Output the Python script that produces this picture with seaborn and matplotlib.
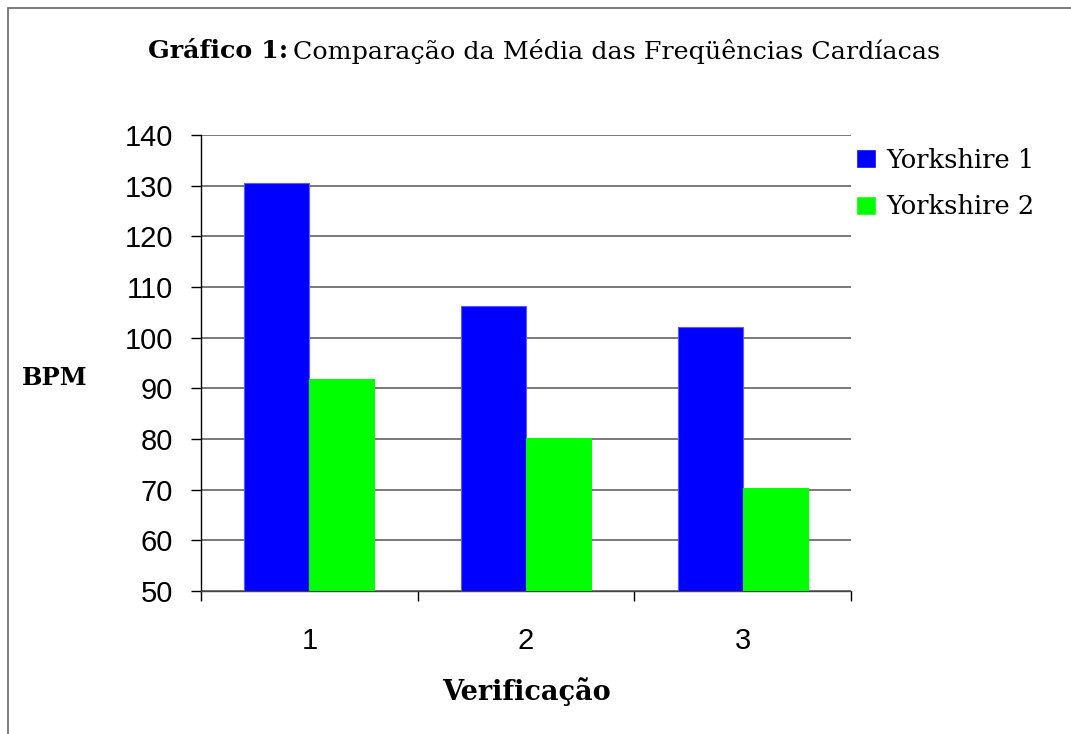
import pandas as pd
import matplotlib.pyplot as plt
import seaborn as sns
from matplotlib.patches import Rectangle

# values
verificacao = ["1", "2", "3"]
yorkshire_1 = [130.5, 106.2, 102.2]
yorkshire_2 = [91.8, 80.1, 70.3]
series = ["Yorkshire 1", "Yorkshire 2"]
cores = ["#0000ff", "#00ff00"]
y_ticks = [50, 60, 70, 80, 90, 100, 110, 120, 130, 140]

df = pd.DataFrame({
    "Verificacao": verificacao * 2,
    "BPM": yorkshire_1 + yorkshire_2,
    "Serie": [series[0]] * 3 + [series[1]] * 3,
})

sns.set_theme(style="white")
plt.rcParams["text.color"] = "black"
serif = ["DejaVu Serif"]
sans = ["Liberation Sans", "DejaVu Sans"]

fig = plt.figure(figsize=(10.71, 7.34), dpi=100)
ax = fig.add_axes([0.1877, 0.1948, 0.6069, 0.6213])

sns.barplot(data=df, x="Verificacao", y="BPM", hue="Serie", palette=cores,
            width=0.6, saturation=1, ax=ax, zorder=3, legend=True)
for bar, c in zip(ax.patches, [cores[0]] * 3 + [cores[1]] * 3):
    bar.set_edgecolor("#5a5aff" if c == cores[0] else cores[1])
    bar.set_linewidth(0.8)

ax.set_ylim(50, 140)
ax.set_xlim(-0.5, 2.5)
ax.set_yticks(y_ticks)
ax.yaxis.grid(True, color="#555555", linewidth=1.1, zorder=0)
ax.tick_params(axis="y", direction="out", length=7, width=1, color="black",
               left=True, pad=13)
ax.tick_params(axis="x", which="major", length=0, pad=26)
ax.set_xticks([-0.5, 0.5, 1.5, 2.5], minor=True)
ax.tick_params(axis="x", which="minor", direction="out", length=7, width=1,
               color="black", bottom=True)
for lab in ax.get_xticklabels() + ax.get_yticklabels():
    lab.set_fontfamily(sans)
    lab.set_fontsize(21)
    lab.set_color("black")

for s in ["top", "right"]:
    ax.spines[s].set_visible(False)
ax.spines["left"].set_color("black")
ax.spines["bottom"].set_color("#444444")
ax.spines["left"].set_linewidth(1)
ax.spines["bottom"].set_linewidth(1)

ax.set_xlabel("Verificação", fontfamily=serif, fontweight="bold",
              fontsize=19.5, color="black", labelpad=16)
ax.set_ylabel("BPM", fontfamily=serif, fontweight="bold", fontsize=17.5,
              color="black", rotation=0, ha="center", va="center")
ax.yaxis.set_label_coords(-0.2246, 0.467)

h, l = ax.get_legend_handles_labels()
ax.get_legend().remove()
leg = fig.legend(h, l, loc="upper left", bbox_to_anchor=(0.799, 0.799),
                 frameon=False, prop={"family": serif, "size": 18.5},
                 handlelength=0.8, handleheight=0.8, handletextpad=0.4,
                 labelspacing=0.85, borderaxespad=0, borderpad=0)
for t in leg.get_texts():
    t.set_color("black")

# title: bold part + regular part
t1 = fig.text(0.138, 0.93, "Gráfico 1:", fontfamily=serif, fontweight="bold",
              fontsize=18.3, ha="left", va="center", color="black")
fig.canvas.draw()
bb = t1.get_window_extent()
x2 = (bb.x1 + 5) / fig.bbox.width
fig.text(x2, 0.93, "Comparação da Média das Freqüências Cardíacas",
         fontfamily=serif, fontsize=18.3, ha="left", va="center", color="black")

# page frame
fig.patches.append(Rectangle((8 / 1071, -0.1), 1.2, 1 - 8 / 734 + 0.1,
                             transform=fig.transFigure, fill=False,
                             edgecolor="#666666", linewidth=1.2))

fig.savefig("out.png", dpi=100)
